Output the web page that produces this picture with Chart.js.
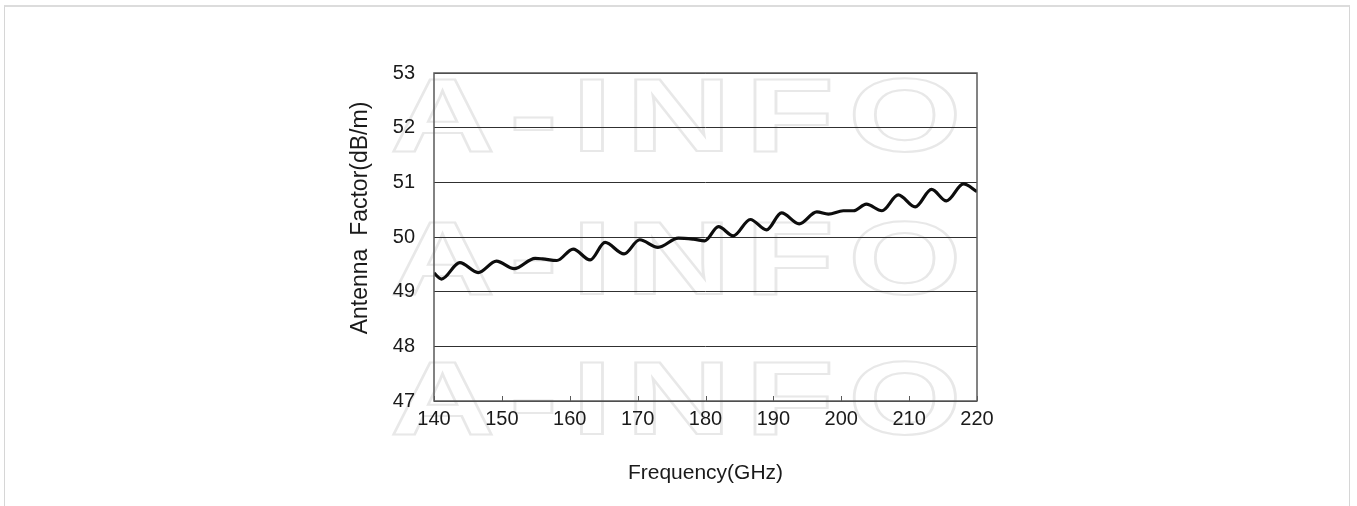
<!DOCTYPE html>
<html>
<head>
<meta charset="utf-8">
<script src="https://cdn.jsdelivr.net/npm/chart.js@4"></script>
<style>
    html, body { margin: 0; padding: 0; background: #fff; }
    #wrap { position: relative; width: 1357px; height: 506px; }
    #frame {
        position: absolute; left: 4px; top: 5px; width: 1344px; height: 510px;
        border-top: 2px solid #dcdcdc; border-left: 1px solid #d6d6d6; border-right: 1px solid #d6d6d6;
    }
    canvas { position: absolute; left: 0; top: 0; }
</style>
</head>
<body>
<div id="wrap">
    <div id="frame"></div>
    <canvas id="afChart" width="1357" height="506"></canvas>
</div>
<script>
/**
 * Antenna factor vs frequency
 */

// frequency points (GHz)
const freqGHz = [
    140.0, 141.1, 143.8, 146.5, 149.2, 151.8, 154.9, 156.0, 158.1, 160.5,
    163.0, 165.2, 168.0, 170.3, 173.0, 176.0, 178.2, 179.9, 181.9, 184.1,
    186.6, 189.0, 191.2, 193.8, 196.4, 198.1, 200.3, 201.8, 203.7, 206.0,
    208.4, 210.9, 213.3, 215.5, 218.0, 220.0
];

// antenna factor (dB/m)
const antennaFactor = [
    49.34, 49.23, 49.53, 49.35, 49.56, 49.42, 49.61, 49.60, 49.57, 49.78,
    49.58, 49.90, 49.69, 49.95, 49.81, 49.98, 49.96, 49.93, 50.19, 50.02,
    50.32, 50.13, 50.44, 50.24, 50.46, 50.42, 50.48, 50.48, 50.60, 50.48,
    50.77, 50.55, 50.87, 50.66, 50.97, 50.83
];

const xTicks = [140, 150, 160, 170, 180, 190, 200, 210, 220];
const yTicks = [47, 48, 49, 50, 51, 52, 53];

const FONT = "'Liberation Sans', Arial, sans-serif";
const TEXT_COLOR = '#1a1a1a';

Chart.defaults.font.family = FONT;
Chart.defaults.color = TEXT_COLOR;

// faint "A-INFO" watermark behind the plot
const watermark = {
    id: 'watermark',
    beforeDraw(chart) {
        const ctx = chart.ctx;
        ctx.save();
        ctx.strokeStyle = '#e8e8e8';
        ctx.lineWidth = 2;
        ctx.font = 'bold 104px ' + FONT;
        ctx.textBaseline = 'middle';
        ctx.letterSpacing = '10px';
        [122, 265, 405].forEach(cy => {
            ctx.save();
            ctx.translate(390, cy);
            ctx.scale(1.4, 1);
            ctx.strokeText('A-INFO', 0, 0);
            ctx.restore();
        });
        ctx.restore();
    }
};

// plot frame, small inward ticks on the bottom axis, y axis title
const frame = {
    id: 'frame',
    afterDatasetsDraw(chart) {
        const { ctx, chartArea: a, scales } = chart;
        ctx.save();
        ctx.strokeStyle = '#5a5a5a';
        ctx.lineWidth = 1.5;
        ctx.strokeRect(a.left, a.top, a.right - a.left, a.bottom - a.top);
        ctx.lineWidth = 1;
        ctx.beginPath();
        xTicks.forEach(v => {
            const px = Math.round(scales.x.getPixelForValue(v)) + 0.5;
            ctx.moveTo(px, a.bottom);
            ctx.lineTo(px, a.bottom - 5);
        });
        ctx.stroke();

        // y title sits a bit above the plot centre in the original
        ctx.translate(361, 218);
        ctx.rotate(-Math.PI / 2);
        ctx.fillStyle = TEXT_COLOR;
        ctx.font = '23px ' + FONT;
        ctx.textAlign = 'center';
        ctx.textBaseline = 'middle';
        ctx.fillText('Antenna  Factor(dB/m)', 0, 0);
        ctx.restore();
    }
};

function createChart() {
    const ctx = document.getElementById('afChart');

    new Chart(ctx, {
        type: 'line',
        data: {
            datasets: [{
                data: freqGHz.map((f, i) => ({ x: f, y: antennaFactor[i] })),
                borderColor: '#0d0d0d',
                borderWidth: 3.2,
                pointRadius: 0,
                cubicInterpolationMode: 'monotone',
                fill: false
            }]
        },
        options: {
            responsive: false,
            animation: false,
            layout: {
                padding: { left: 345, top: 73, right: 380, bottom: 16 }
            },
            plugins: {
                legend: { display: false },
                tooltip: { enabled: false }
            },
            scales: {
                x: {
                    type: 'linear',
                    min: 140,
                    max: 220,
                    afterFit: s => { s.height = 89; },
                    afterBuildTicks: s => { s.ticks = xTicks.map(v => ({ value: v })); },
                    grid: { display: false, drawTicks: false },
                    border: { display: false },
                    ticks: {
                        padding: 6,
                        maxRotation: 0,
                        font: { size: 20 },
                        color: TEXT_COLOR
                    },
                    title: {
                        display: true,
                        text: 'Frequency(GHz)',
                        font: { size: 21 },
                        color: TEXT_COLOR,
                        padding: { top: 0, bottom: 4 }
                    }
                },
                y: {
                    min: 47,
                    max: 53,
                    afterFit: s => { s.width = 89; },
                    afterBuildTicks: s => { s.ticks = yTicks.map(v => ({ value: v })); },
                    grid: {
                        color: '#303030',
                        lineWidth: 1,
                        drawTicks: false
                    },
                    border: { display: false },
                    ticks: {
                        padding: 19,
                        font: { size: 20 },
                        color: TEXT_COLOR
                    }
                }
            }
        },
        plugins: [watermark, frame]
    });
}

document.addEventListener('DOMContentLoaded', createChart);
</script>
</body>
</html>
